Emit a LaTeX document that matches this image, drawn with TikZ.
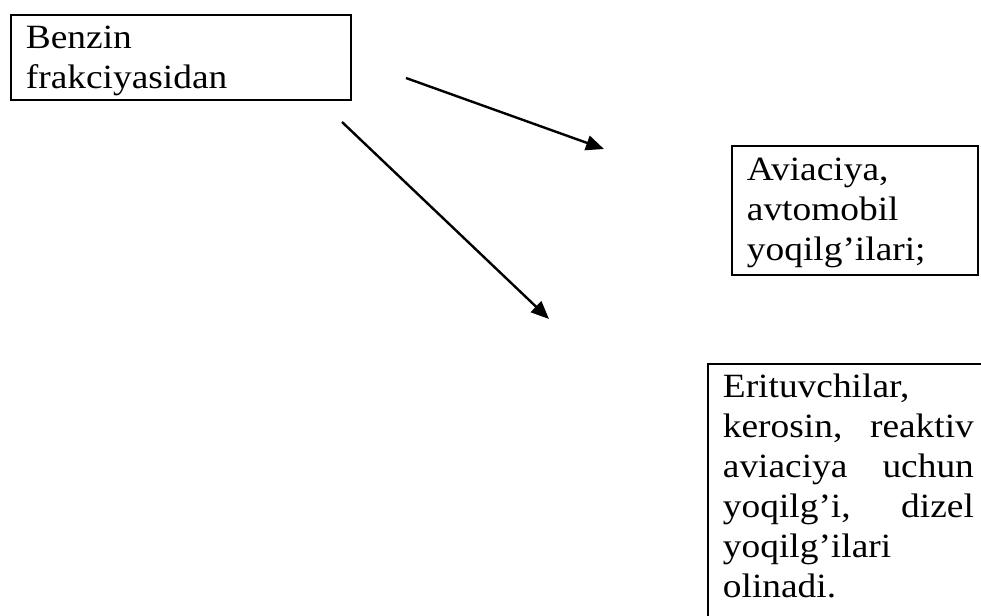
\documentclass[tikz,border=0pt]{standalone}
\usepackage{fontspec}
\setmainfont{Liberation Serif}[FakeStretch=1.1]
\usetikzlibrary{arrows.meta}
\tikzset{
  fraction box/.style={
    rectangle, draw=black, line width=1.8pt,
    anchor=north west, align=left,
    inner xsep=15pt, inner ysep=0pt,
    text height=34pt,
    font=\fontsize{34}{40}\selectfont
  },
  fraction arrow/.style={-{Triangle[length=18pt,width=15pt]}, line width=2.4pt}
}

\begin{document}
\begin{tikzpicture}[x=1pt,y=-1pt]
    \useasboundingbox (0,0) rectangle (981,615);
    \clip (0,0) rectangle (981,615);
    \node[fraction box, text width=310pt, text depth=51pt] (benzin) at (10,14)
      {Benzin\\frakciyasidan};
    \node[fraction box, text width=216pt, text height=35pt, text depth=94pt] (aviaciya) at (731,145)
      {Aviaciya,\\avtomobil\\yoqilg’ilari;};
    \node[fraction box, text width=251pt, text depth=260pt] (erituvchilar) at (707,363)
      {Erituvchilar,\\kerosin,\hfill reaktiv\\aviaciya\hfill uchun\\
       yoqilg’i,\hfill dizel\\yoqilg’ilari\\olinadi.};
    % free arrows between the boxes
    \coordinate (avia start) at (406,78);
    \coordinate (avia end) at (604,149);
    \coordinate (erit start) at (342,122);
    \coordinate (erit end) at (549,319);
    \draw[fraction arrow] (avia start) -- (avia end);
    \draw[fraction arrow] (erit start) -- (erit end);
\end{tikzpicture}
\end{document}
